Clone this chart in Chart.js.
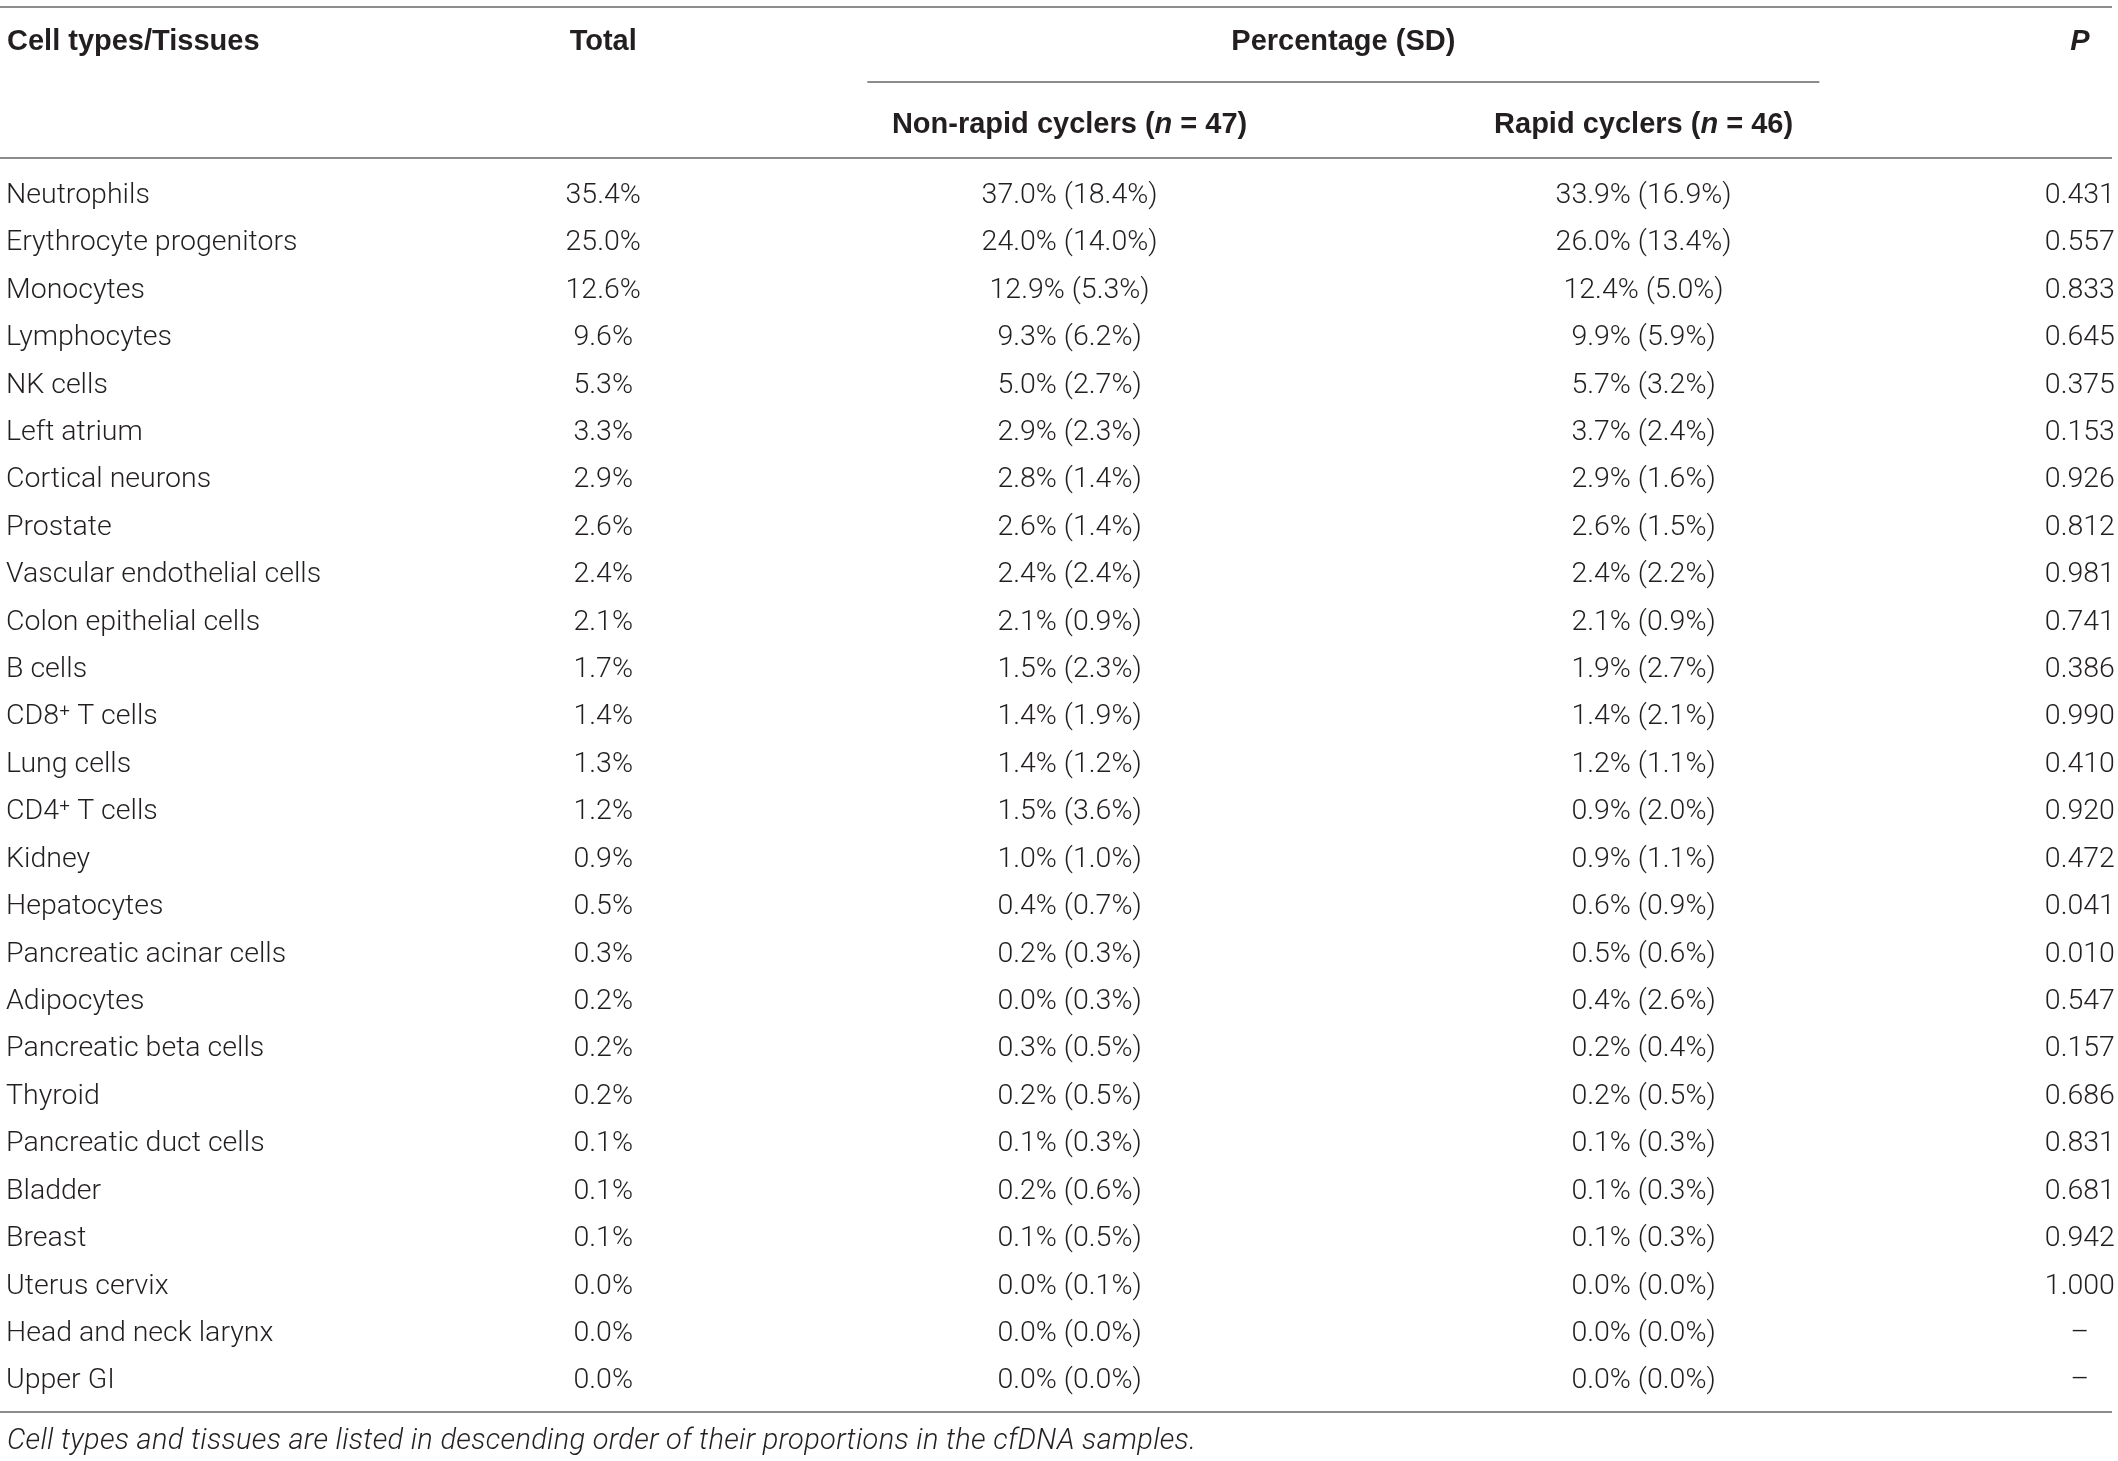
<!DOCTYPE html>
<html><head><meta charset="utf-8">
<script src="https://cdn.jsdelivr.net/npm/chart.js@4.4.1/dist/chart.umd.min.js"></script>
<style>html,body{margin:0;padding:0;background:#fff}#wrap{width:2118px;height:1461px;position:relative}</style>
</head><body><div id="wrap"><canvas id="c"></canvas></div>
<script>
// ---------- DATA ----------
const cellTypes = ["Neutrophils","Erythrocyte progenitors","Monocytes","Lymphocytes","NK cells","Left atrium","Cortical neurons","Prostate","Vascular endothelial cells","Colon epithelial cells","B cells","CD8\u207A T cells","Lung cells","CD4\u207A T cells","Kidney","Hepatocytes","Pancreatic acinar cells","Adipocytes","Pancreatic beta cells","Thyroid","Pancreatic duct cells","Bladder","Breast","Uterus cervix","Head and neck larynx","Upper GI"];
const totalPct     = [35.4,25.0,12.6,9.6,5.3,3.3,2.9,2.6,2.4,2.1,1.7,1.4,1.3,1.2,0.9,0.5,0.3,0.2,0.2,0.2,0.1,0.1,0.1,0.0,0.0,0.0];
const nonRapidMean = [37.0,24.0,12.9,9.3,5.0,2.9,2.8,2.6,2.4,2.1,1.5,1.4,1.4,1.5,1.0,0.4,0.2,0.0,0.3,0.2,0.1,0.2,0.1,0.0,0.0,0.0];
const nonRapidSD   = [18.4,14.0,5.3,6.2,2.7,2.3,1.4,1.4,2.4,0.9,2.3,1.9,1.2,3.6,1.0,0.7,0.3,0.3,0.5,0.5,0.3,0.6,0.5,0.1,0.0,0.0];
const rapidMean    = [33.9,26.0,12.4,9.9,5.7,3.7,2.9,2.6,2.4,2.1,1.9,1.4,1.2,0.9,0.9,0.6,0.5,0.4,0.2,0.2,0.1,0.1,0.1,0.0,0.0,0.0];
const rapidSD      = [16.9,13.4,5.0,5.9,3.2,2.4,1.6,1.5,2.2,0.9,2.7,2.1,1.1,2.0,1.1,0.9,0.6,2.6,0.4,0.5,0.3,0.3,0.3,0.0,0.0,0.0];
const pValues      = [0.431,0.557,0.833,0.645,0.375,0.153,0.926,0.812,0.981,0.741,0.386,0.990,0.410,0.920,0.472,0.041,0.010,0.547,0.157,0.686,0.831,0.681,0.942,1.000,null,null];
const headerLabels = {name:"Cell types/Tissues", total:"Total", group:"Percentage (SD)", p:"P"};
const groupNames = ["Non-rapid cyclers", "Rapid cyclers"];
const groupN = [47, 46];
const footnote = "Cell types and tissues are listed in descending order of their proportions in the cfDNA samples.";

// ---------- LAYOUT / STYLE ----------
const INK = "#231f20";
const RULE = "#8d8d8d";
const BODY_FAMILY = "Roboto, 'Liberation Sans', sans-serif";
const HEAD_FAMILY = "'Liberation Sans', Arial, sans-serif";
const FS = 28.5, HFS = 29, FOOT_FS = 29;
const colX = {total: 28.48, nonRapid: 50.5, rapid: 77.6, p: 98.2, groupL: 40.95, groupR: 85.9}; // % of width
const yHead1 = 42, yHead2 = 125, yRuleTop = 7, yRuleMid = 82, yRuleHead = 158, yRuleBottom = 1412, yFoot = 1442;

const pct = v => v.toFixed(1) + "%";
const colText = {
  total: totalPct.map(pct),
  nonRapid: nonRapidMean.map((m,i)=> pct(m) + " (" + pct(nonRapidSD[i]) + ")"),
  rapid: rapidMean.map((m,i)=> pct(m) + " (" + pct(rapidSD[i]) + ")"),
  p: pValues.map(v => v === null ? "\u2013" : v.toFixed(3))
};
const colKeys = ["total","nonRapid","rapid","p"];

function drawRich(ctx, parts, x, y, align){
  let total = 0;
  parts.forEach(p => { ctx.font = p.font; p.w = ctx.measureText(p.t).width; total += p.w; });
  let cx = align === "center" ? x - total/2 : (align === "right" ? x - total : x);
  ctx.textAlign = "left";
  parts.forEach(p => { ctx.font = p.font; ctx.fillText(p.t, cx, y); cx += p.w; });
}

const tablePlugin = {
  id: "tablePlugin",
  afterDatasetsDraw(chart){
    const ctx = chart.ctx;
    const xs = chart.scales.x;
    ctx.save();
    ctx.fillStyle = INK;
    ctx.textBaseline = "middle";
    const bodyFont = `300 ${FS}px ${BODY_FAMILY}`;
    chart.data.datasets.forEach((ds, di) => {
      const meta = chart.getDatasetMeta(di);
      meta.data.forEach((el, i) => {
        ctx.font = bodyFont;
        ctx.textAlign = "center";
        ctx.fillText(ds.data[i].label, el.x, el.y);
      });
    });
    const bold = `700 ${HFS}px ${HEAD_FAMILY}`;
    const boldIt = `italic 700 ${HFS}px ${HEAD_FAMILY}`;
    ctx.font = bold; ctx.textAlign = "left";
    ctx.fillText(headerLabels.name, 7, yHead1);
    ctx.textAlign = "center";
    ctx.fillText(headerLabels.total, xs.getPixelForValue(colX.total), yHead1);
    ctx.fillText(headerLabels.group, xs.getPixelForValue((colX.groupL+colX.groupR)/2), yHead1);
    ctx.font = boldIt;
    ctx.fillText(headerLabels.p, xs.getPixelForValue(colX.p), yHead1);
    [colX.nonRapid, colX.rapid].forEach((cx, g) => {
      drawRich(ctx, [
        {t: groupNames[g] + " (", font: bold},
        {t: "n", font: boldIt},
        {t: " = " + groupN[g] + ")", font: bold}
      ], xs.getPixelForValue(cx), yHead2, "center");
    });
    ctx.strokeStyle = RULE; ctx.lineWidth = 2;
    const hl = (x1, x2, y) => { ctx.beginPath(); ctx.moveTo(x1, y); ctx.lineTo(x2, y); ctx.stroke(); };
    hl(0, 2112, yRuleTop);
    hl(xs.getPixelForValue(colX.groupL), xs.getPixelForValue(colX.groupR), yRuleMid);
    hl(0, 2112, yRuleHead);
    hl(0, 2112, yRuleBottom);
    ctx.font = `italic 300 ${FOOT_FS}px ${BODY_FAMILY}`;
    ctx.textAlign = "left";
    if ("letterSpacing" in ctx) ctx.letterSpacing = "0.3px";
    ctx.fillText(footnote, 7, yFoot);
    ctx.restore();
  }
};

const datasets = colKeys.map(k => ({
  label: k,
  data: cellTypes.map((c, i) => ({x: colX[k], y: i, label: colText[k][i]})),
  pointRadius: 0, pointHoverRadius: 0, showLine: false
}));

new Chart(document.getElementById("c"), {
  type: "scatter",
  data: {datasets},
  options: {
    responsive: true, maintainAspectRatio: false, animation: false,
    events: [],
    layout: {padding: {left: 0, right: 0, top: 172, bottom: 56}},
    plugins: {legend: {display: false}, tooltip: {enabled: false}},
    scales: {
      x: {type: "linear", min: 0, max: 100, display: false},
      y: {
        type: "category", labels: cellTypes, offset: true,
        grid: {display: false}, border: {display: false},
        afterFit: s => { s.width = 0; },
        ticks: {mirror: true, padding: 6, color: INK, autoSkip: false,
                font: {family: BODY_FAMILY, size: FS, weight: 300}}
      }
    }
  },
  plugins: [tablePlugin]
});
</script></body></html>
